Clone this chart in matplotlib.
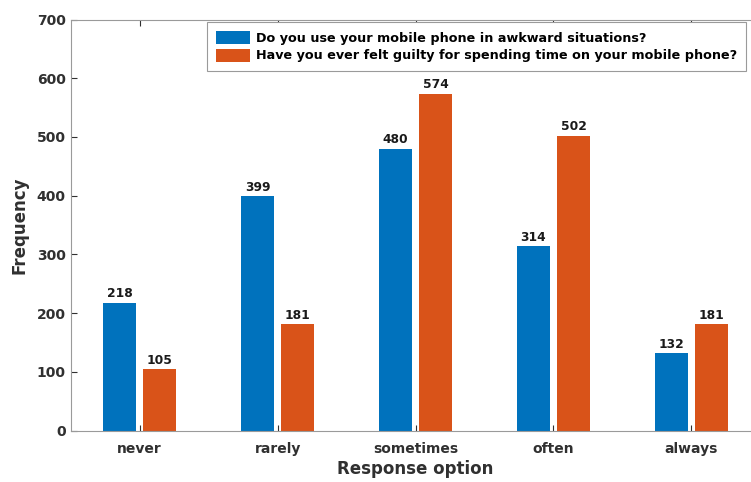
import matplotlib
matplotlib.use("Agg")
import matplotlib.pyplot as plt
import numpy as np

plt.rcParams['font.family'] = ['DejaVu Sans']
plt.rcParams['font.weight'] = 'bold'

categories = ['never', 'rarely', 'sometimes', 'often', 'always']
awkward = [218, 399, 480, 314, 132]
guilty = [105, 181, 574, 502, 181]
series_names = ['Do you use your mobile phone in awkward situations?',
                'Have you ever felt guilty for spending time on your mobile phone?']

blue = '#0072BD'
orange = '#D95319'

fig = plt.figure(figsize=(7.51, 4.82), dpi=100)
# right edge of the box falls just outside the picture, as in the original
ax = fig.add_axes([70.7/751, 1-430.7/482, 689.7/751, 411.2/482])

x = np.arange(1, len(categories)+1)
off = 0.145
w = 0.235
b1 = ax.bar(x-off, awkward, w, color=blue, label=series_names[0])
b2 = ax.bar(x+off, guilty, w, color=orange, label=series_names[1])

for bars, vals in ((b1, awkward), (b2, guilty)):
	for rect, v in zip(bars, vals):
		ax.text(rect.get_x()+rect.get_width()/2, v+4, str(v),
				ha='center', va='bottom', fontsize=8.8, fontweight='bold', color='#1a1a1a')

ax.set_xlim(0.5, 5.5)
ax.set_ylim(0, 700)
ax.set_yticks(range(0, 701, 100))
ax.set_xticks(x)
ax.set_xticklabels(categories)
ax.tick_params(axis='both', direction='in', labelsize=10, colors='#303030', length=4,
			   top=True, right=True)
ax.tick_params(axis='x', pad=8)
for s in ax.spines.values():
	s.set_color('#9a9a9a')
	s.set_linewidth(0.8)
for lab in ax.get_xticklabels() + ax.get_yticklabels():
	lab.set_fontweight('bold')

ax.set_xlabel('Response option', fontsize=12, fontweight='bold', color='#303030', labelpad=3)
ax.set_ylabel('Frequency', fontsize=12, fontweight='bold', color='#303030', labelpad=6)

leg = fig.legend(handles=[b1, b2], loc='upper left',
				 bbox_to_anchor=(207/751, 1-22/482), bbox_transform=fig.transFigure,
				 borderaxespad=0, fancybox=False, prop={'weight': 'bold', 'size': 9.2},
				 handlelength=2.7, handleheight=1.2, handletextpad=0.4,
				 labelspacing=0.3, borderpad=0.7, edgecolor='#9a9a9a', framealpha=1)
leg.get_frame().set_linewidth(0.8)

plt.savefig('out.png', dpi=100)
